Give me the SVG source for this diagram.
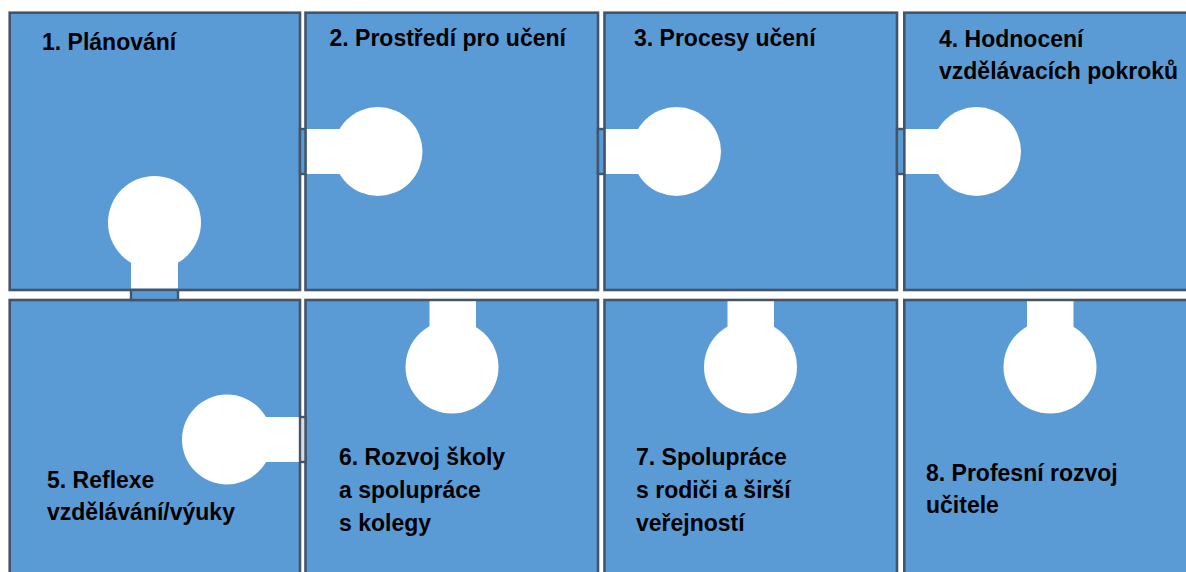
<svg xmlns="http://www.w3.org/2000/svg" width="1186" height="572" viewBox="0 0 1186 572">
<style>
.tile{fill:#5B9BD5;stroke:#44546A;stroke-width:2.6}
.knob{fill:#FFFFFF}
.joint{fill:#5B9BD5;stroke:#44546A;stroke-width:2.4}
.joint-l{fill:#DCDCDC;stroke:#44546A;stroke-width:2.4}
.lbl{font-family:"Liberation Sans",Arial,sans-serif;font-weight:bold;font-size:23px;fill:#000000}
</style>
<rect width="1186" height="572" fill="#FFFFFF"/>
<g id="node1">
<rect class="tile" x="9.7" y="12.7" width="290.3" height="277.3"/>
<circle class="knob" cx="154.5" cy="222.5" r="46.5"/>
<rect class="knob" x="131" y="250" width="47" height="38.5"/>
<text class="lbl" x="42" y="50">1. Plánování</text>
</g>
<g id="node2">
<rect class="tile" x="305.5" y="12.7" width="292.5" height="277.3"/>
<rect class="knob" x="306.5" y="129" width="40" height="45"/>
<circle class="knob" cx="378" cy="151.5" r="44.5"/>
<text class="lbl" x="329.5" y="46">2. Prostředí pro učení</text>
</g>
<g id="node3">
<rect class="tile" x="604.5" y="12.7" width="292.5" height="277.3"/>
<rect class="knob" x="605.5" y="129" width="40" height="45"/>
<circle class="knob" cx="676.5" cy="151.5" r="44.5"/>
<text class="lbl" x="634" y="46">3. Procesy učení</text>
</g>
<g id="node4">
<rect class="tile" x="904.3" y="12.7" width="300" height="277.3"/>
<rect class="knob" x="905.3" y="129" width="40" height="45"/>
<circle class="knob" cx="976.5" cy="151.5" r="44.5"/>
<text class="lbl" x="939" y="46.5">4. Hodnocení</text>
<text class="lbl" x="939" y="78.5">vzdělávacích pokroků</text>
</g>
<g id="node5">
<rect class="tile" x="9.7" y="300" width="290.3" height="290"/>
<circle class="knob" cx="227" cy="439.5" r="45"/>
<rect class="knob" x="255" y="417" width="44" height="45"/>
<text class="lbl" x="47" y="488">5. Reflexe</text>
<text class="lbl" x="47" y="520">vzdělávání/výuky</text>
</g>
<g id="node6">
<rect class="tile" x="305.5" y="300" width="292.5" height="290"/>
<rect class="knob" x="429.5" y="301.3" width="46.5" height="40"/>
<circle class="knob" cx="452" cy="367" r="46.5"/>
<text class="lbl" x="339" y="465">6. Rozvoj školy</text>
<text class="lbl" x="339" y="498">a spolupráce</text>
<text class="lbl" x="339" y="531">s kolegy</text>
</g>
<g id="node7">
<rect class="tile" x="604.5" y="300" width="292.5" height="290"/>
<rect class="knob" x="727.5" y="301.3" width="46.5" height="40"/>
<circle class="knob" cx="750.5" cy="367" r="46.5"/>
<text class="lbl" x="636" y="465">7. Spolupráce</text>
<text class="lbl" x="636" y="498">s rodiči a širší</text>
<text class="lbl" x="636" y="531">veřejností</text>
</g>
<g id="node8">
<rect class="tile" x="904.3" y="300" width="300" height="290"/>
<rect class="knob" x="1027" y="301.3" width="46.5" height="40"/>
<circle class="knob" cx="1050" cy="367" r="46.5"/>
<text class="lbl" x="926" y="481">8. Profesní rozvoj</text>
<text class="lbl" x="926" y="513">učitele</text>
</g>
<g id="connectors">
<rect class="joint" x="300" y="129" width="5.5" height="45"/>
<rect class="joint" x="598" y="129" width="6.5" height="45"/>
<rect class="joint" x="897" y="129" width="7.3" height="45"/>
<rect class="joint" x="131" y="290" width="47" height="10"/>
<rect class="joint-l" x="300" y="417" width="5.5" height="45"/>
</g>
</svg>
